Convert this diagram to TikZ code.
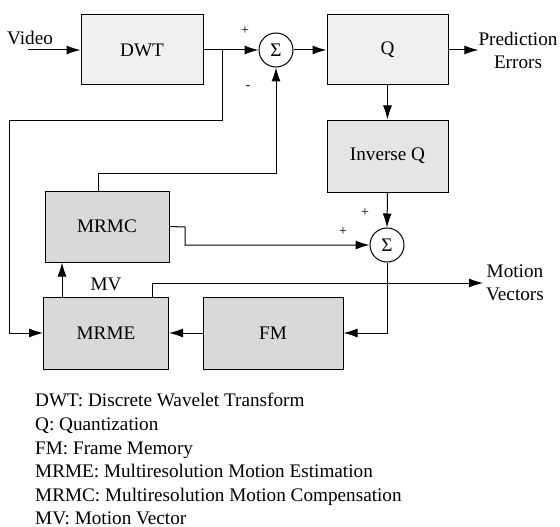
\documentclass[tikz,border=0pt]{standalone}
\usepackage{fontspec}
\setmainfont{Liberation Serif}
\usetikzlibrary{arrows.meta}
\begin{document}
\begin{tikzpicture}[x=1pt,y=-1pt,
  every node/.style={font=\fontsize{19.2}{23}\selectfont},
  blk/.style={draw=black,line width=1pt,inner sep=0pt},
  light/.style={blk,fill=gray!12},
  mid/.style={blk,fill=gray!20},
  dark/.style={blk,fill=gray!30},
  sum/.style={draw=black,line width=1pt,circle,minimum size=34pt,inner sep=0pt},
  wire/.style={line width=1pt},
  arr/.style={line width=1pt,-{Latex[length=14pt,width=9pt]}},
  sgn/.style={font=\fontsize{14}{16}\selectfont,inner sep=0pt},
  leg/.style={anchor=base west,inner sep=0pt}]
\useasboundingbox (0,0) rectangle (560,527);
% blocks
\node[light,minimum width=122pt,minimum height=70pt] (dwt) at (142,50) {DWT};
\node[light,minimum width=121pt,minimum height=70pt] (q) at (387.5,50) {Q};
\node[mid,minimum width=121pt,minimum height=72pt] (invq) at (387.5,156) {Inverse Q};
\node[dark,minimum width=124pt,minimum height=71pt] (mrmc) at (107,226.5) {MRMC};
\node[dark,minimum width=125pt,minimum height=72pt] (mrme) at (106,333) {MRME};
\node[dark,minimum width=140pt,minimum height=72pt] (fm) at (273,333) {FM};
\node[sum] (s1) at (276,50) {Σ};
\node[sum] (s2) at (387,245) {Σ};
% texts
\node[inner sep=0pt] (video) at (30,38) {Video};
\node[inner sep=0pt,align=center] (pe) at (518,50) {Prediction\\Errors};
\node[inner sep=3pt,align=center] (mvout) at (515,283) {Motion\\Vectors};
\node[inner sep=0pt] (mvlab) at (106,284) {MV};
\node[sgn] (p1) at (245,31) {+};
\node[sgn] (m1) at (248,88) {-};
\node[sgn] (p2) at (365,213) {+};
\node[sgn] (p3) at (343,232) {+};
% coordinates
\coordinate (vin) at (28,50);
\coordinate (br) at (222,50);
\coordinate (mcup) at (98,191);
\coordinate (meup) at (62,297);
\coordinate (mvst) at (152,297);
% connectors
\draw[arr] (vin) -- (dwt.west);
\draw[arr] (dwt.east) -- (s1.west);
\draw[arr] (s1.east) -- (q.west);
\draw[arr] (q.east) -- (pe.west);
\draw[arr] (q.south) -- (invq.north);
\draw[arr] (invq.south) -- (s2.north);
\draw[arr] (br) |- (9,120) |- (mrme.west);
\draw[arr] (mcup) -- (98,173) -| (s1.south);
\draw[arr] (mrmc.east) -- (185,227) |- (s2.west);
\draw[arr] (s2.south) |- (fm.east);
\draw[arr] (fm.west) -- (mrme.east);
\draw[arr] (meup) -- (meup |- mrmc.south);
\draw[arr] (mvst) |- (mvout.west);
% legend
\node[leg] (l1) at (35,406) {DWT: Discrete Wavelet Transform};
\node[leg] (l2) at (35,430) {Q: Quantization};
\node[leg] (l3) at (35,454) {FM: Frame Memory};
\node[leg] (l4) at (35,477.5) {MRME: Multiresolution Motion Estimation};
\node[leg] (l5) at (35,501) {MRMC: Multiresolution Motion Compensation};
\node[leg] (l6) at (35,524) {MV: Motion Vector};
\end{tikzpicture}
\end{document}
